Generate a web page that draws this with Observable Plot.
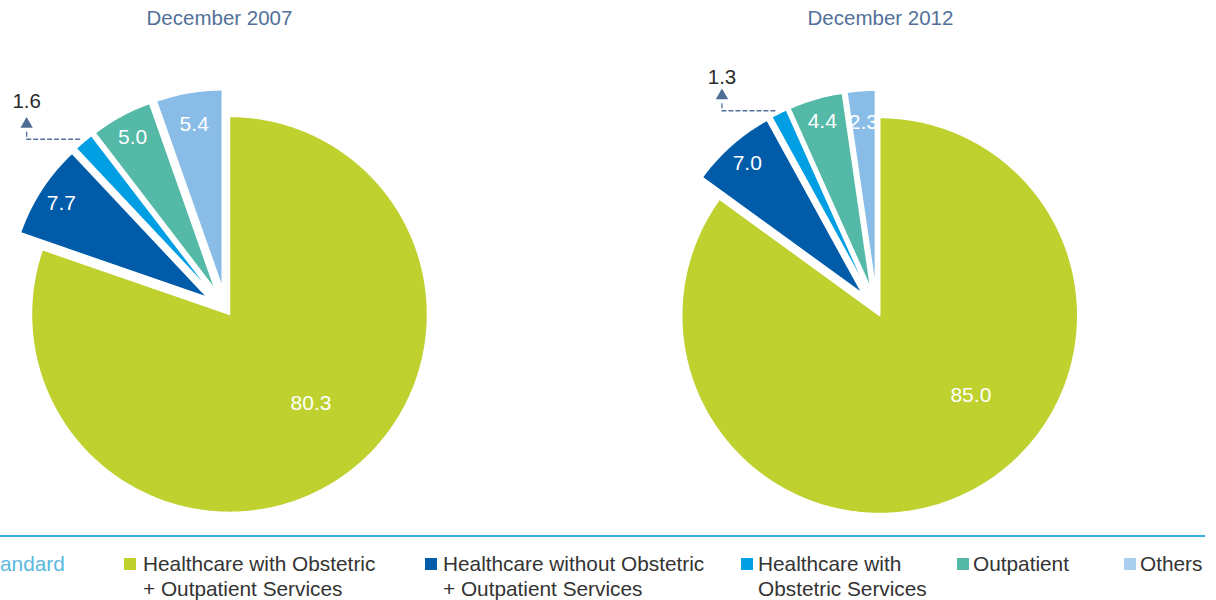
<!DOCTYPE html>
<html><head><meta charset="utf-8">
<script src="https://cdn.jsdelivr.net/npm/d3@7"></script>
<script src="https://cdn.jsdelivr.net/npm/@observablehq/plot@0.6"></script>
<style>
body{margin:0;background:#fff;width:1216px;height:600px;overflow:hidden;font-family:"Liberation Sans",Arial,sans-serif}
#chart{position:relative;height:530px}
#rule{position:absolute;left:0;top:535px;width:1205px;height:2px;background:#36afdd}
#legend{position:relative;height:62px;margin-top:6.5px;width:1205px}
.item{position:absolute;top:14px;font-size:20.8px;line-height:25px;color:#333;white-space:nowrap}
.sw{position:absolute;top:21px;width:12px;height:12px}
</style></head><body>
<div id="chart"></div>
<div id="rule"></div>
<div id="legend"></div>
<script>
// ---------- data ----------
const years = ["December 2007", "December 2012"];
const categories = [
  "Healthcare with Obstetric + Outpatient Services",
  "Healthcare without Obstetric + Outpatient Services",
  "Healthcare with Obstetric Services",
  "Outpatient",
  "Others"
];
const values2007 = [80.3, 7.7, 1.6, 5.0, 5.4];
const values2012 = [85.0, 7.0, 1.3, 4.4, 2.3];
const legendLines = [
  ["Healthcare with Obstetric", "+ Outpatient Services"],
  ["Healthcare without Obstetric", "+ Outpatient Services"],
  ["Healthcare with", "Obstetric Services"],
  ["Outpatient"],
  ["Others"]
];
const legendLead = "andard";

// ---------- styles / layout ----------
const colors = ["#bed12f", "#005ca9", "#009fe3", "#54b9a6", "#89bde8"];
const legendColors = ["#bed12f", "#005ca9", "#009fe3", "#54b9a6", "#abd0ef"];
const W = 1216, H = 530, R = 198;
const centers = [[225.5, 309], [876.5, 309.7]];
const titleX = [219, 880];
const explode = [6, 22, 22, 22, 22];
const labelFrac = [0.61, 0.88, 0.87, 0.88, 0.84];
const bigTurn = [-7, -22];
const calloutIndex = 2;
const calloutLift = [38, 33];
const legendSwX = [124, 425, 741, 957, 1124];
const legendTxtX = [143, 443, 758, 973, 1140];

const valueSets = [values2007, values2012];
const rad = d => d * Math.PI / 180;
const dir = a => [Math.sin(rad(a)), -Math.cos(rad(a))];

const slicePolys = [];
const labels = [];
const leaders = [];
const arrows = [];
const callouts = [];
const titles = years.map((y, i) => ({t: y, x: titleX[i], y: 18}));

valueSets.forEach((vals, p) => {
  const [cx, cy] = centers[p];
  let cum = 0;
  vals.forEach((v, i) => {
    const a0 = cum * 3.6, a1 = (cum + v) * 3.6; cum += v;
    const mid = (a0 + a1) / 2;
    const [dx, dy] = dir(mid);
    const ox = cx + dx * explode[i], oy = cy + dy * explode[i];
    const pts = [{x: ox, y: oy}];
    const n = Math.max(4, Math.ceil((a1 - a0) / 0.5));
    for (let k = 0; k <= n; k++) {
      const [ux, uy] = dir(a0 + (a1 - a0) * k / n);
      pts.push({x: ox + R * ux, y: oy + R * uy});
    }
    slicePolys.push({pts, color: colors[i]});
    const txt = v.toFixed(1);
    if (i === calloutIndex) {
      const [mx, my] = dir(mid);
      const outX = ox + R * mx, outY = oy + R * my - 2.5;
      const lx = outX - 57;
      leaders.push([{x: outX - 4, y: outY}, {x: lx, y: outY}, {x: lx, y: outY - 10}]);
      arrows.push({x: lx, y: outY - 15});
      callouts.push({t: txt, x: lx, y: outY - calloutLift[p]});
    } else {
      const a = i === 0 ? mid + bigTurn[p] : mid;
      const [lx, ly] = dir(a);
      labels.push({t: txt, x: ox + lx * R * labelFrac[i], y: oy + ly * R * labelFrac[i]});
    }
  });
});

const font = '"Liberation Sans", Arial, Helvetica, sans-serif';
const chart = Plot.plot({
  width: W, height: H, margin: 0,
  x: {domain: [0, W], range: [0, W], axis: null},
  y: {domain: [0, H], range: [0, H], axis: null},
  style: {fontFamily: font, background: "white", overflow: "visible"},
  marks: [
    ...slicePolys.map(s => Plot.line(s.pts, {x: "x", y: "y", curve: "linear-closed", fill: s.color, stroke: "white", strokeWidth: 1.5})),
    Plot.text(labels, {x: "x", y: "y", text: "t", fill: "white", fontSize: 21}),
    ...leaders.map(l => Plot.line(l, {x: "x", y: "y", stroke: "#50709a", strokeWidth: 1.3, strokeDasharray: "4,3"})),
    Plot.dot(arrows, {x: "x", y: "y", symbol: "triangle", r: 4.6, fill: "#4f6e96", stroke: "none"}),
    Plot.text(callouts, {x: "x", y: "y", text: "t", fill: "#2b2b2b", fontSize: 20.5}),
    Plot.text(titles, {x: "x", y: "y", text: "t", fill: "#52719a", fontSize: 20.5})
  ]
});
document.getElementById("chart").append(chart);

// legend
const leg = document.getElementById("legend");
const lead = document.createElement("div");
lead.className = "item";
lead.style.left = "0px";
lead.style.color = "#5ab7de";
lead.textContent = legendLead;
leg.append(lead);
categories.forEach((c, i) => {
  const sw = document.createElement("div");
  sw.className = "sw";
  sw.style.left = legendSwX[i] + "px";
  sw.style.background = legendColors[i];
  sw.title = c;
  leg.append(sw);
  const t = document.createElement("div");
  t.className = "item";
  t.style.left = legendTxtX[i] + "px";
  t.innerHTML = legendLines[i].join("<br>");
  leg.append(t);
});
</script>
</body></html>
